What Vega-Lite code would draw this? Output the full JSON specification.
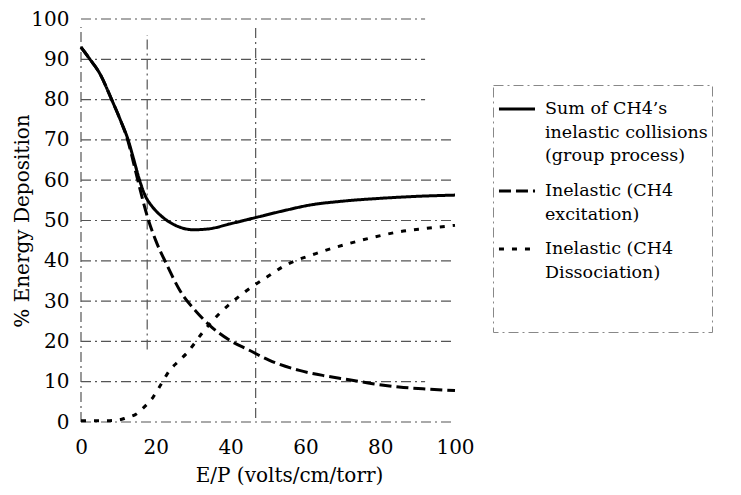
{
  "$schema": "https://vega.github.io/schema/vega-lite/v6.json",
  "width": 374,
  "height": 403,
  "autosize": {"type": "none"},
  "padding": {"left": 81, "top": 19, "right": 286, "bottom": 73},
  "background": "white",
  "config": {
    "view": {"stroke": null, "strokeWidth": 0},
    "font": "DejaVu Serif",
    "legend": {"strokeDash": [10, 4, 2, 4], "strokeWidth": 1},
    "style": {"guide-label": {"lineHeight": 23.5}}
  },
  "datasets": {
    "guides": [
      {"x": 0, "y": 0, "y2": 98},
      {"x": 17.7, "y": 18, "y2": 96},
      {"x": 46.7, "y": 1, "y2": 98}
    ],
    "grid": [
      {"x": 0, "x2": 99.5, "y": 0},
      {"x": 0, "x2": 92, "y": 10},
      {"x": 0, "x2": 99.5, "y": 20},
      {"x": 0, "x2": 99, "y": 30},
      {"x": 0, "x2": 99.5, "y": 40},
      {"x": 0, "x2": 99.5, "y": 50},
      {"x": 0, "x2": 99.5, "y": 60},
      {"x": 0, "x2": 99.5, "y": 70},
      {"x": 0, "x2": 92, "y": 80},
      {"x": 0, "x2": 92, "y": 90},
      {"x": 0, "x2": 92, "y": 100}
    ],
    "curves": [
      {"series": "Sum of CH4’s inelastic collisions (group process)", "x": 0, "y": 93},
      {"series": "Sum of CH4’s inelastic collisions (group process)", "x": 2.4, "y": 90},
      {"series": "Sum of CH4’s inelastic collisions (group process)", "x": 5, "y": 86.5},
      {"series": "Sum of CH4’s inelastic collisions (group process)", "x": 8.2, "y": 80},
      {"series": "Sum of CH4’s inelastic collisions (group process)", "x": 10.5, "y": 75},
      {"series": "Sum of CH4’s inelastic collisions (group process)", "x": 12.6, "y": 70},
      {"series": "Sum of CH4’s inelastic collisions (group process)", "x": 14, "y": 65.5},
      {"series": "Sum of CH4’s inelastic collisions (group process)", "x": 15.5, "y": 60.5},
      {"series": "Sum of CH4’s inelastic collisions (group process)", "x": 17, "y": 56.5},
      {"series": "Sum of CH4’s inelastic collisions (group process)", "x": 19, "y": 53.5},
      {"series": "Sum of CH4’s inelastic collisions (group process)", "x": 21, "y": 51.5},
      {"series": "Sum of CH4’s inelastic collisions (group process)", "x": 23, "y": 50},
      {"series": "Sum of CH4’s inelastic collisions (group process)", "x": 26, "y": 48.5},
      {"series": "Sum of CH4’s inelastic collisions (group process)", "x": 30, "y": 47.7},
      {"series": "Sum of CH4’s inelastic collisions (group process)", "x": 34, "y": 47.9},
      {"series": "Sum of CH4’s inelastic collisions (group process)", "x": 40, "y": 49.2},
      {"series": "Sum of CH4’s inelastic collisions (group process)", "x": 47, "y": 50.8},
      {"series": "Sum of CH4’s inelastic collisions (group process)", "x": 55, "y": 52.6},
      {"series": "Sum of CH4’s inelastic collisions (group process)", "x": 61, "y": 53.8},
      {"series": "Sum of CH4’s inelastic collisions (group process)", "x": 70, "y": 54.8},
      {"series": "Sum of CH4’s inelastic collisions (group process)", "x": 80, "y": 55.5},
      {"series": "Sum of CH4’s inelastic collisions (group process)", "x": 90, "y": 56},
      {"series": "Sum of CH4’s inelastic collisions (group process)", "x": 100, "y": 56.3},
      {"series": "Inelastic (CH4 excitation)", "x": 0, "y": 93},
      {"series": "Inelastic (CH4 excitation)", "x": 2.4, "y": 90},
      {"series": "Inelastic (CH4 excitation)", "x": 5, "y": 86.5},
      {"series": "Inelastic (CH4 excitation)", "x": 8.2, "y": 80},
      {"series": "Inelastic (CH4 excitation)", "x": 10.5, "y": 75},
      {"series": "Inelastic (CH4 excitation)", "x": 12.6, "y": 69.6},
      {"series": "Inelastic (CH4 excitation)", "x": 14, "y": 64.5},
      {"series": "Inelastic (CH4 excitation)", "x": 15.5, "y": 58.8},
      {"series": "Inelastic (CH4 excitation)", "x": 17.9, "y": 50.5},
      {"series": "Inelastic (CH4 excitation)", "x": 20, "y": 45},
      {"series": "Inelastic (CH4 excitation)", "x": 22.8, "y": 39.3},
      {"series": "Inelastic (CH4 excitation)", "x": 26.4, "y": 32.7},
      {"series": "Inelastic (CH4 excitation)", "x": 30.9, "y": 27.3},
      {"series": "Inelastic (CH4 excitation)", "x": 34.4, "y": 24},
      {"series": "Inelastic (CH4 excitation)", "x": 39.7, "y": 20.3},
      {"series": "Inelastic (CH4 excitation)", "x": 45, "y": 17.8},
      {"series": "Inelastic (CH4 excitation)", "x": 50.4, "y": 15.3},
      {"series": "Inelastic (CH4 excitation)", "x": 58.4, "y": 12.8},
      {"series": "Inelastic (CH4 excitation)", "x": 65, "y": 11.5},
      {"series": "Inelastic (CH4 excitation)", "x": 71.7, "y": 10.5},
      {"series": "Inelastic (CH4 excitation)", "x": 78, "y": 9.5},
      {"series": "Inelastic (CH4 excitation)", "x": 85, "y": 8.7},
      {"series": "Inelastic (CH4 excitation)", "x": 92, "y": 8.2},
      {"series": "Inelastic (CH4 excitation)", "x": 100, "y": 7.8},
      {"series": "Inelastic (CH4 Dissociation)", "x": 0, "y": 0.3},
      {"series": "Inelastic (CH4 Dissociation)", "x": 5, "y": 0.3},
      {"series": "Inelastic (CH4 Dissociation)", "x": 10, "y": 0.5},
      {"series": "Inelastic (CH4 Dissociation)", "x": 12, "y": 1},
      {"series": "Inelastic (CH4 Dissociation)", "x": 14.8, "y": 2},
      {"series": "Inelastic (CH4 Dissociation)", "x": 17, "y": 3.8},
      {"series": "Inelastic (CH4 Dissociation)", "x": 19.3, "y": 6.2},
      {"series": "Inelastic (CH4 Dissociation)", "x": 21.5, "y": 9.5},
      {"series": "Inelastic (CH4 Dissociation)", "x": 23.7, "y": 12.8},
      {"series": "Inelastic (CH4 Dissociation)", "x": 26, "y": 15},
      {"series": "Inelastic (CH4 Dissociation)", "x": 28.2, "y": 17},
      {"series": "Inelastic (CH4 Dissociation)", "x": 32.6, "y": 22.3},
      {"series": "Inelastic (CH4 Dissociation)", "x": 37, "y": 26.9},
      {"series": "Inelastic (CH4 Dissociation)", "x": 43.3, "y": 31.9},
      {"series": "Inelastic (CH4 Dissociation)", "x": 50.4, "y": 36.4},
      {"series": "Inelastic (CH4 Dissociation)", "x": 53.9, "y": 38.5},
      {"series": "Inelastic (CH4 Dissociation)", "x": 62.8, "y": 41.8},
      {"series": "Inelastic (CH4 Dissociation)", "x": 71.7, "y": 44.3},
      {"series": "Inelastic (CH4 Dissociation)", "x": 78, "y": 45.8},
      {"series": "Inelastic (CH4 Dissociation)", "x": 85.1, "y": 47.2},
      {"series": "Inelastic (CH4 Dissociation)", "x": 92, "y": 48},
      {"series": "Inelastic (CH4 Dissociation)", "x": 100, "y": 48.8}
    ]
  },
  "encoding": {
    "x": {
      "field": "x", "type": "quantitative",
      "scale": {"domain": [0, 100], "nice": false, "zero": false},
      "axis": {
        "title": "E/P (volts/cm/torr)",
        "values": [0, 20, 40, 60, 80, 100],
        "grid": false, "ticks": false, "domain": false,
        "labelFlush": false, "labelOverlap": false,
        "labelFont": "DejaVu Serif", "labelFontSize": 20, "labelColor": "black", "labelPadding": 15,
        "titleFont": "DejaVu Serif", "titleFontSize": 20, "titleFontWeight": "normal", "titleColor": "black",
        "titlePadding": 8, "titleX": 208
      }
    },
    "y": {
      "field": "y", "type": "quantitative",
      "scale": {"domain": [0, 100], "nice": false},
      "axis": {
        "title": "% Energy Deposition",
        "values": [0, 10, 20, 30, 40, 50, 60, 70, 80, 90, 100],
        "grid": false, "ticks": false, "domain": false,
        "labelFlush": false, "labelOverlap": false,
        "labelFont": "DejaVu Serif", "labelFontSize": 20, "labelColor": "black", "labelPadding": 12,
        "titleFont": "DejaVu Serif", "titleFontSize": 20, "titleFontWeight": "normal", "titleColor": "black",
        "titlePadding": -2
      }
    }
  },
  "layer": [
    {
      "data": {"name": "grid"},
      "mark": {"type": "rule", "stroke": "#555", "strokeDash": [10, 4, 2, 4], "strokeWidth": 1.2},
      "encoding": {
        "x2": {"field": "x2"}
      }
    },
    {
      "data": {"name": "guides"},
      "mark": {"type": "rule", "stroke": "#555", "strokeDash": [10, 4, 2, 4], "strokeWidth": 1.2},
      "encoding": {
        "y2": {"field": "y2"}
      }
    },
    {
      "data": {"name": "curves"},
      "mark": {"type": "line", "strokeWidth": 3, "interpolate": "monotone", "color": "black"},
      "encoding": {
        "detail": {"field": "series", "type": "nominal"},
        "strokeDash": {
          "field": "series", "type": "nominal",
          "scale": {
            "domain": ["Sum of CH4’s inelastic collisions (group process)", "Inelastic (CH4 excitation)", "Inelastic (CH4 Dissociation)"],
            "range": [[1, 0], [12, 5], [5, 8]]
          },
          "legend": {
            "title": null,
            "orient": "none", "legendX": 412, "legendY": 66,
            "symbolType": "stroke", "symbolSize": 1300, "symbolStrokeWidth": 3, "symbolStrokeColor": "black",
            "labelFont": "DejaVu Serif", "labelFontSize": 17.5, "labelColor": "black", "labelOffset": 8, "labelLimit": 400,
            "rowPadding": 6, "padding": 4,
            "strokeColor": "#888",
            "labelExpr": "datum.label == 'Inelastic (CH4 excitation)' ? ['Inelastic (CH4', 'excitation)'] : datum.label == 'Inelastic (CH4 Dissociation)' ? ['Inelastic (CH4', 'Dissociation)', '', ''] : ['Sum of CH4’s', ' inelastic collisions', '(group process)']"
          }
        }
      }
    }
  ]
}
